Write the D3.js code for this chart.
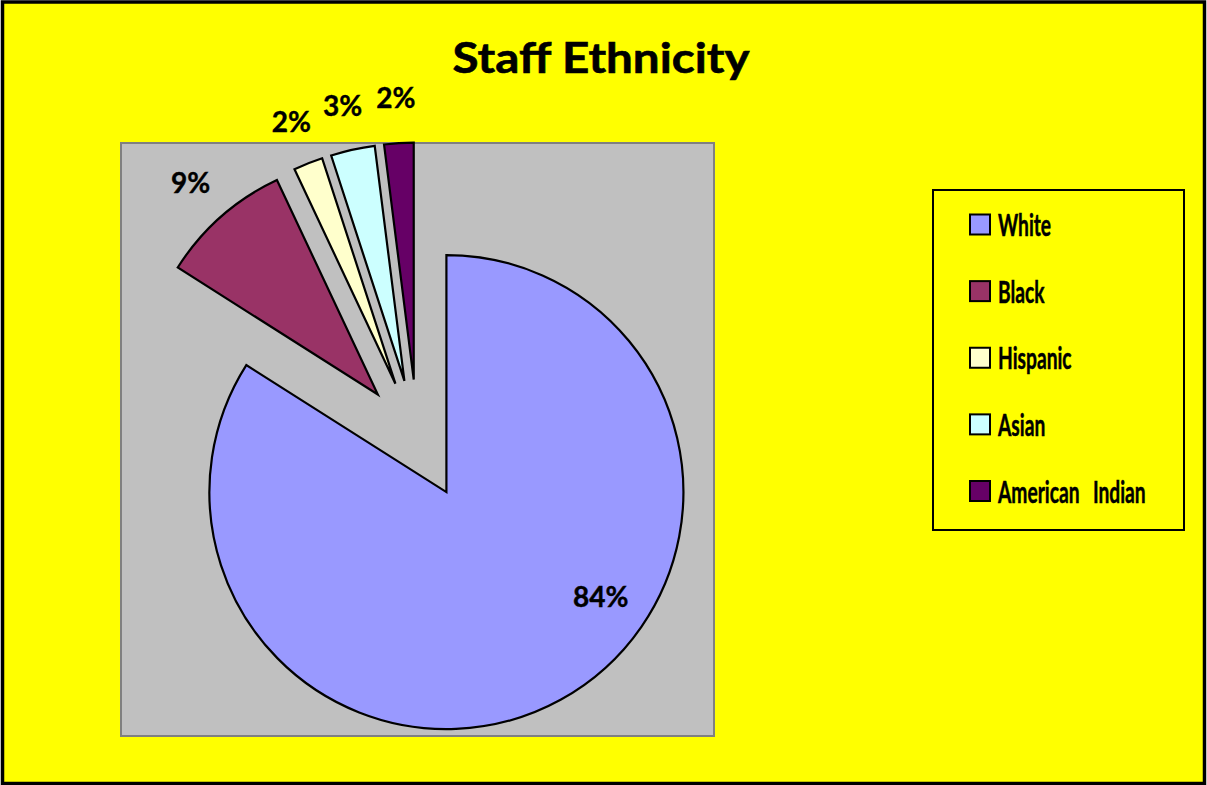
<!DOCTYPE html>
<html>
<head>
<meta charset="utf-8">
<script src="https://cdn.jsdelivr.net/npm/d3@7"></script>
<style>
  html, body { margin: 0; padding: 0; background: #fff; }
  svg { display: block; }
  text { font-family: Lato, "Open Sans", sans-serif; font-weight: bold; fill: #000; }
</style>
</head>
<body>
<svg id="chart" width="1207" height="785"></svg>
<script>
// Staff ethnicity shares (percent)
const categories = ["White", "Black", "Hispanic", "Asian", "American Indian"];
const shares = [84, 9, 2, 3, 2];
const labels = ["84%", "9%", "2%", "3%", "2%"];
const colors = ["#9999FF", "#993366", "#FFFFCC", "#CCFFFF", "#660066"];
const title = "Staff Ethnicity";

const W = 1207, H = 785;
const svg = d3.select("#chart");

// chart background and frame
svg.append("rect")
  .attr("x", 2.5).attr("y", 2).attr("width", W - 5).attr("height", H - 3.5)
  .attr("fill", "#FFFF00").attr("stroke", "#000").attr("stroke-width", 3.5);

// title
svg.append("text")
  .attr("x", 601).attr("y", 73)
  .attr("text-anchor", "middle")
  .attr("textLength", 297)
  .attr("lengthAdjust", "spacingAndGlyphs")
  .style("font-size", "42px")
  .style("stroke", "#000").style("stroke-width", 0.6)
  .text(title);

// plot area
const plot = { x: 121, y: 143, w: 593, h: 593 };
svg.append("rect")
  .attr("x", plot.x).attr("y", plot.y).attr("width", plot.w).attr("height", plot.h)
  .attr("fill", "#C0C0C0").attr("stroke", "#808080").attr("stroke-width", 2);

const cx = plot.x + plot.w / 2, cy = plot.y + plot.h / 2;
const radius = 237;
const explode = 60;

const pie = d3.pie().sort(null).value(d => d)(shares);
const arc = d3.arc().innerRadius(0).outerRadius(radius);

const g = svg.append("g").attr("transform", `translate(${cx},${cy})`);

const offset = (a, r) => [Math.sin(a) * r, -Math.cos(a) * r];

g.selectAll("path.slice")
  .data(pie)
  .join("path")
  .attr("class", "slice")
  .attr("d", arc)
  .attr("transform", d => {
    const [dx, dy] = offset((d.startAngle + d.endAngle) / 2, explode);
    return `translate(${dx},${dy})`;
  })
  .attr("fill", (d, i) => colors[i])
  .attr("stroke", "#000")
  .attr("stroke-width", 2.2)
  .attr("stroke-linejoin", "miter");

// data labels: outside the small slices, inside the large one
g.selectAll("text.lbl")
  .data(pie)
  .join("text")
  .attr("class", "lbl")
  .attr("text-anchor", "middle")
  .attr("dominant-baseline", "central")
  .style("font-size", "28px")
  .style("stroke", "#000").style("stroke-width", 0.4)
  .attr("transform", d => {
    const mid = (d.startAngle + d.endAngle) / 2;
    let x, y;
    if (d.endAngle - d.startAngle > Math.PI) {
      const [ex, ey] = offset(mid, explode);
      const a = d.startAngle + (d.endAngle - d.startAngle) * 0.41;
      const [lx, ly] = offset(a, radius * 0.785);
      x = ex + lx; y = ey + ly;
    } else {
      [x, y] = offset(mid, explode + radius + 46);
    }
    return `translate(${x},${y})`;
  })
  .text((d, i) => labels[i]);

// legend
const legend = { x: 933, y: 190, w: 251, h: 340 };
svg.append("rect")
  .attr("x", legend.x).attr("y", legend.y).attr("width", legend.w).attr("height", legend.h)
  .attr("fill", "#FFFF00").attr("stroke", "#000").attr("stroke-width", 2);

const rowY = d3.scalePoint().domain(categories).range([224.5, 491]);
const items = svg.selectAll("g.item")
  .data(categories)
  .join("g")
  .attr("class", "item")
  .attr("transform", d => `translate(${legend.x + 37},${rowY(d)})`);

items.append("rect")
  .attr("x", 0).attr("y", -10).attr("width", 20).attr("height", 20)
  .attr("fill", (d, i) => colors[i])
  .attr("stroke", "#000").attr("stroke-width", 2);

items.append("text")
  .attr("transform", "translate(28,11.5) scale(0.62,1)")
  .style("font-size", "31px")
  .style("word-spacing", "14px")
  .style("stroke", "#000").style("stroke-width", 0.5)
  .text(d => d);
</script>
</body>
</html>
